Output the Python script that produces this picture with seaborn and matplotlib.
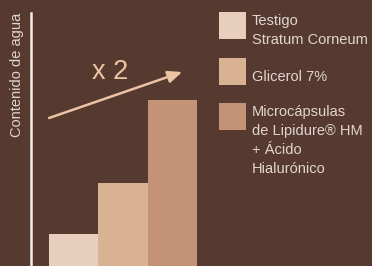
import matplotlib
matplotlib.use("Agg")
import matplotlib.pyplot as plt
from matplotlib.patches import Rectangle
import pandas as pd
import seaborn as sns

# --- chart data (bar heights in arbitrary units) ---
categories = ["Testigo\nStratum Corneum", "Glicerol 7%",
              "Microcápsulas\nde Lipidure® HM\n+ Ácido\nHialurónico"]
water_content = [32, 83, 166]
bar_colors = ["#e8cfbd", "#d9b193", "#c49276"]
y_label = "Contenido de agua"
gain_label = "x 2"

BG = "#563a30"
TEXT = "#e2d5cf"
PEACH = "#ecc4a4"


def build_chart():
    sns.set_theme(style="white")
    plt.rcParams["font.family"] = ["Liberation Sans", "DejaVu Sans"]

    fig = plt.figure(figsize=(3.72, 2.66), dpi=100, facecolor=BG)
    ax = fig.add_axes([31 / 372, 0, 166 / 372, 253 / 266])
    ax.set_facecolor(BG)

    df = pd.DataFrame({"grupo": categories, "agua": water_content})
    sns.barplot(data=df, x="grupo", y="agua", hue="grupo", palette=bar_colors,
                width=1.0, saturation=1, legend=False, ax=ax, linewidth=0)

    ax.set_xlim(-0.867, 2.5)
    ax.set_ylim(0, 253)
    ax.set_xticks([])
    ax.set_yticks([])
    ax.set_xlabel("")
    ax.set_ylabel("")
    for side in ["top", "right", "bottom"]:
        ax.spines[side].set_visible(False)
    ax.spines["left"].set_color("#f2eeea")
    ax.spines["left"].set_linewidth(1.8)

    # growth arrow + label
    ax.annotate("", xy=(2.2, 194), xytext=(-0.5, 148),
                arrowprops=dict(arrowstyle="-|>,head_length=0.7,head_width=0.3",
                                color=PEACH, lw=1.8, shrinkA=0, shrinkB=0))
    ax.text(0.74, 194, gain_label, color=PEACH, fontsize=19.5,
            ha="center", va="center")

    # rotated axis title, left of the spine
    fig.text(17 / 372, 1 - 13 / 266, y_label, rotation=90, color=TEXT,
             fontsize=10.5, ha="center", va="top")

    # legend drawn by hand: square swatch + label
    swatch_tops = [12, 58, 103]
    text_tops = [14, 70, 105]
    for label, color, sq_top, tx_top in zip(categories, bar_colors, swatch_tops, text_tops):
        fig.patches.append(Rectangle((219 / 372, 1 - (sq_top + 27) / 266), 27 / 372, 27 / 266,
                                     transform=fig.transFigure, facecolor=color,
                                     edgecolor="none"))
        fig.text(252 / 372, 1 - tx_top / 266, label, color=TEXT, fontsize=10.5,
                 ha="left", va="top", linespacing=1.45)

    fig.savefig("out.png", dpi=100, facecolor=BG)
    plt.close(fig)


if __name__ == "__main__":
    build_chart()
